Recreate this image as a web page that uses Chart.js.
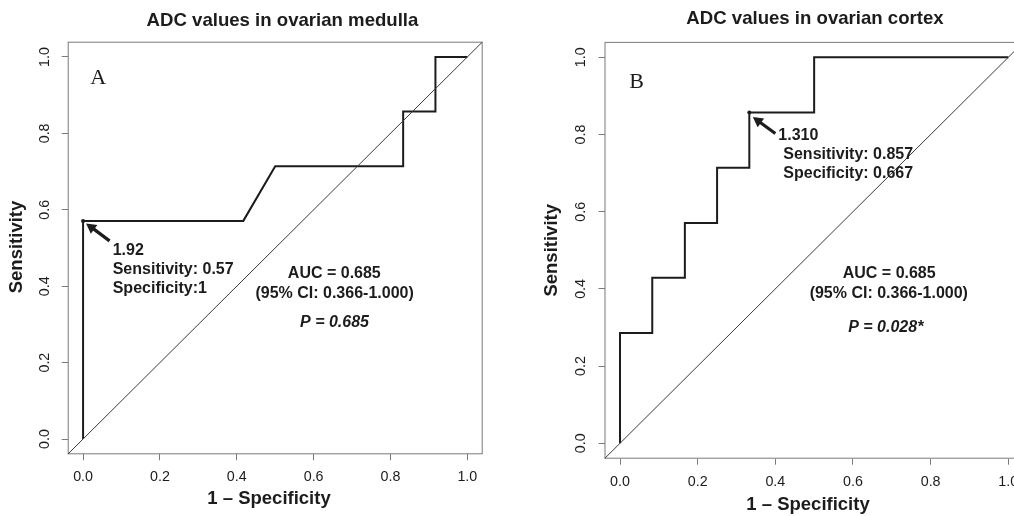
<!DOCTYPE html>
<html><head><meta charset="utf-8">
<script src="https://cdn.jsdelivr.net/npm/chart.js@4.4.1/dist/chart.umd.min.js"></script>
<style>
html,body{margin:0;padding:0;background:#fff;overflow:hidden}
#wrap{position:relative;width:1014px;height:516px;overflow:hidden;background:#fff}
canvas{position:absolute;top:0}
</style></head><body>
<div id="wrap">
<canvas id="c1" width="507" height="516" style="left:0;width:507px;height:516px"></canvas>
<canvas id="c2" width="540" height="516" style="left:507px;width:540px;height:516px"></canvas>
</div>
<script>
// ---------- data ----------
const tickValues = [0, 0.2, 0.4, 0.6, 0.8, 1.0];
const tickLabels = ['0.0', '0.2', '0.4', '0.6', '0.8', '1.0'];
const axisRange = [-0.04, 1.04];

const medullaFPR = [0, 0, 0.417, 0.5, 0.833, 0.833, 0.917, 0.917, 1];
const medullaTPR = [0, 0.571, 0.571, 0.714, 0.714, 0.857, 0.857, 1, 1];
const medullaCutoff = [0, 0.571];

const cortexFPR = [0, 0, 0.083, 0.083, 0.167, 0.167, 0.25, 0.25, 0.333, 0.333, 0.5, 0.5, 1];
const cortexTPR = [0, 0.286, 0.286, 0.429, 0.429, 0.571, 0.571, 0.714, 0.714, 0.857, 0.857, 1, 1];
const cortexCutoff = [0.333, 0.857];

const medullaTexts = ['1.92', 'Sensitivity: 0.57', 'Specificity:1', 'AUC = 0.685', '(95% CI: 0.366-1.000)', 'P = 0.685'];
const cortexTexts = ['1.310', 'Sensitivity: 0.857', 'Specificity: 0.667', 'AUC = 0.685', '(95% CI: 0.366-1.000)', 'P = 0.028*'];

// ---------- styling / layout ----------
const SANS = '"Liberation Sans", Arial, sans-serif';
const SERIF = '"Liberation Serif", "Times New Roman", serif';
const INK = '#1c1c1c';

function makeChart(id, cfg) {
  const canvas = document.getElementById(id);
  const off = cfg.offsetX;
  const rocPts = cfg.fpr.map((x, i) => ({x: x, y: cfg.tpr[i]}));
  const diag = [{x: axisRange[0], y: axisRange[0]}, {x: axisRange[1], y: axisRange[1]}];
  const cut = [{x: cfg.cutoff[0], y: cfg.cutoff[1]}];

  const deco = {
    id: 'deco' + id,
    beforeDatasetsDraw(chart) {
      const {ctx, chartArea: a} = chart;
      ctx.save();
      ctx.strokeStyle = '#7a7a7a';
      ctx.lineWidth = 1;
      ctx.strokeRect(a.left + 0.5, a.top + 0.5, a.right - a.left - 1, a.bottom - a.top - 1);
      ctx.restore();
    },
    afterDraw(chart) {
      const {ctx} = chart;
      const xs = chart.scales.x, ys = chart.scales.y;
      ctx.save();
      ctx.fillStyle = INK;
      ctx.textBaseline = 'middle';
      const T = (txt, x, y, font, align) => {
        ctx.font = font; ctx.textAlign = align || 'center';
        ctx.fillText(txt, x - off, y);
      };
      // title
      T(cfg.title, cfg.titlePos[0], cfg.titlePos[1], 'bold 18.6px ' + SANS);
      // axis titles
      T('1 \u2013 Specificity', cfg.xTitlePos[0], cfg.xTitlePos[1], 'bold 18.5px ' + SANS);
      ctx.save();
      ctx.translate(cfg.yTitlePos[0] - off, cfg.yTitlePos[1]);
      ctx.rotate(-Math.PI / 2);
      ctx.font = 'bold 18.5px ' + SANS; ctx.textAlign = 'center';
      ctx.fillText('Sensitivity', 0, 0);
      ctx.restore();
      // panel letter
      T(cfg.letter, cfg.letterPos[0], cfg.letterPos[1], '22px ' + SERIF);
      // cutoff annotation
      const t = cfg.texts;
      T(t[0], cfg.cutText[0][0], cfg.cutText[0][1], 'bold 16px ' + SANS, 'left');
      T(t[1], cfg.cutText[1][0], cfg.cutText[1][1], 'bold 16px ' + SANS, 'left');
      T(t[2], cfg.cutText[2][0], cfg.cutText[2][1], 'bold 16px ' + SANS, 'left');
      T(t[3], cfg.aucText[0][0], cfg.aucText[0][1], 'bold 16px ' + SANS);
      T(t[4], cfg.aucText[1][0], cfg.aucText[1][1], 'bold 16px ' + SANS);
      T(t[5], cfg.aucText[2][0], cfg.aucText[2][1], 'italic bold 16px ' + SANS);
      // arrow pointing to cutoff
      const px = xs.getPixelForValue(cfg.cutoff[0]);
      const py = ys.getPixelForValue(cfg.cutoff[1]);
      const tipX = px + cfg.arrow[0], tipY = py + cfg.arrow[1];
      const tailX = px + cfg.arrow[2], tailY = py + cfg.arrow[3];
      const ang = Math.atan2(tipY - tailY, tipX - tailX);
      const hl = 10, hw = 5.5;
      ctx.strokeStyle = INK; ctx.lineWidth = 3.2; ctx.lineCap = 'butt';
      ctx.beginPath();
      ctx.moveTo(tailX, tailY);
      ctx.lineTo(tipX - Math.cos(ang) * hl * 0.8, tipY - Math.sin(ang) * hl * 0.8);
      ctx.stroke();
      ctx.beginPath();
      ctx.moveTo(tipX, tipY);
      ctx.lineTo(tipX - Math.cos(ang) * hl - Math.sin(ang) * hw, tipY - Math.sin(ang) * hl + Math.cos(ang) * hw);
      ctx.lineTo(tipX - Math.cos(ang) * hl + Math.sin(ang) * hw, tipY - Math.sin(ang) * hl - Math.cos(ang) * hw);
      ctx.closePath();
      ctx.fill();
      ctx.restore();
    }
  };

  const tickFont = {family: SANS, size: 14.3};
  return new Chart(canvas, {
    type: 'scatter',
    data: {
      datasets: [
        {data: diag, showLine: true, borderColor: '#3a3a3a', borderWidth: 1, pointRadius: 0, tension: 0},
        {data: rocPts, showLine: true, borderColor: INK, borderWidth: 2, pointRadius: 0, tension: 0},
        {data: cut, showLine: false, pointRadius: 2, backgroundColor: INK, borderColor: INK, borderWidth: 0}
      ]
    },
    options: {
      responsive: false,
      animation: false,
      devicePixelRatio: 1,
      layout: {padding: cfg.padding},
      plugins: {legend: {display: false}, tooltip: {enabled: false}, title: {display: false}},
      elements: {line: {borderJoinStyle: 'miter'}},
      scales: {
        x: {
          type: 'linear', min: axisRange[0], max: axisRange[1],
          afterBuildTicks: s => { s.ticks = tickValues.map(v => ({value: v})); },
          afterFit: s => { s.height = cfg.xHeight; },
          ticks: {font: tickFont, color: INK, padding: cfg.xTickPad, maxRotation: 0, autoSkip: false,
                  callback: (v, i) => tickLabels[i]},
          grid: {display: true, drawOnChartArea: false, drawTicks: true, tickLength: 6, color: '#7a7a7a'},
          border: {display: false}
        },
        y: {
          type: 'linear', min: axisRange[0], max: axisRange[1],
          afterBuildTicks: s => { s.ticks = tickValues.map(v => ({value: v})); },
          afterFit: s => { s.width = cfg.yWidth; },
          ticks: {font: tickFont, color: INK, padding: cfg.yTickPad, minRotation: 90, maxRotation: 90,
                  crossAlign: 'center', autoSkip: false, callback: (v, i) => tickLabels[i]},
          grid: {display: true, drawOnChartArea: false, drawTicks: true, tickLength: 6, color: '#7a7a7a'},
          border: {display: false}
        }
      }
    },
    plugins: [deco]
  });
}

makeChart('c1', {
  offsetX: 0,
  fpr: medullaFPR, tpr: medullaTPR, cutoff: medullaCutoff, texts: medullaTexts,
  title: 'ADC values in ovarian medulla', titlePos: [282.5, 20.5],
  xTitlePos: [269, 499], yTitlePos: [16.5, 247],
  letter: 'A', letterPos: [98.3, 78.5],
  cutText: [[112.7, 250.8], [112.7, 269.6], [112.7, 288.7]],
  aucText: [[334.3, 274], [334.6, 293.5], [334.5, 323]],
  arrow: [3, 2.5, 26.5, 20],
  padding: {left: 0, top: 41.7, right: 24.3, bottom: 0},
  yWidth: 67.7, xHeight: 61.7, xTickPad: 8, yTickPad: 6.5
});

makeChart('c2', {
  offsetX: 507,
  fpr: cortexFPR, tpr: cortexTPR, cutoff: cortexCutoff, texts: cortexTexts,
  title: 'ADC values in ovarian cortex', titlePos: [815, 18.5],
  xTitlePos: [808, 505], yTitlePos: [551.5, 250.3],
  letter: 'B', letterPos: [636.7, 82.7],
  cutText: [[778.3, 135.3], [783.3, 154.5], [783.3, 173.7]],
  aucText: [[889.2, 273.8], [888.8, 293.5], [885.8, 327.5]],
  arrow: [3.5, 4.5, 26, 21],
  padding: {left: 0, top: 41.9, right: 23.2, bottom: 0},
  yWidth: 97.5, xHeight: 57.3, xTickPad: 8.5, yTickPad: 7.3
});
</script>
</body></html>
